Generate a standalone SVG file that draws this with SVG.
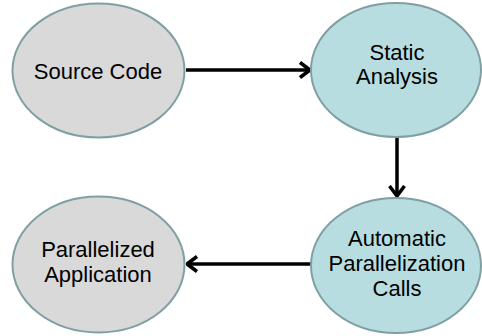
<svg xmlns="http://www.w3.org/2000/svg" width="482" height="336" viewBox="0 0 482 336">
  <defs>
    <style>
      .grey { fill: #d9d9d9; stroke: #7f9fa3; stroke-width: 2; }
      .blue { fill: #b7dde1; stroke: #7f9fa3; stroke-width: 2; }
      .label { font-family: "Liberation Sans", Arial, sans-serif; font-size: 22px; fill: #000; text-anchor: middle; }
      .edge { fill: none; stroke: #000; stroke-width: 3.5; }
    </style>
    <marker id="arrow" viewBox="0 0 13 18" refX="11.5" refY="9" markerWidth="13" markerHeight="18" markerUnits="userSpaceOnUse" orient="auto">
      <path d="M1.5,1.5 L11.5,9 L1.5,16.5" fill="none" stroke="#000" stroke-width="3.5"/>
    </marker>
  </defs>
  <rect width="482" height="336" fill="#fff"/>

  <g id="connectors">
    <line class="edge" x1="186" y1="70" x2="310" y2="70" marker-end="url(#arrow)"/>
    <line class="edge" x1="397" y1="137" x2="397" y2="196" marker-end="url(#arrow)"/>
    <line class="edge" x1="311" y1="264" x2="187" y2="264" marker-end="url(#arrow)"/>
  </g>

  <g id="source-code">
    <ellipse class="grey" cx="98.5" cy="70.5" rx="86" ry="67"/>
    <text class="label" x="98" y="79">Source Code</text>
  </g>

  <g id="static-analysis">
    <ellipse class="blue" cx="396" cy="70" rx="85" ry="67"/>
    <text class="label" x="397" y="60">Static</text>
    <text class="label" x="397" y="84">Analysis</text>
  </g>

  <g id="automatic-parallelization">
    <ellipse class="blue" cx="396" cy="265.5" rx="85" ry="67.5"/>
    <text class="label" x="397" y="246">Automatic</text>
    <text class="label" x="397" y="271">Parallelization</text>
    <text class="label" x="397" y="296">Calls</text>
  </g>

  <g id="parallelized-application">
    <ellipse class="grey" cx="98.5" cy="264.5" rx="86" ry="68"/>
    <text class="label" x="98" y="257">Parallelized</text>
    <text class="label" x="98" y="282">Application</text>
  </g>
</svg>
